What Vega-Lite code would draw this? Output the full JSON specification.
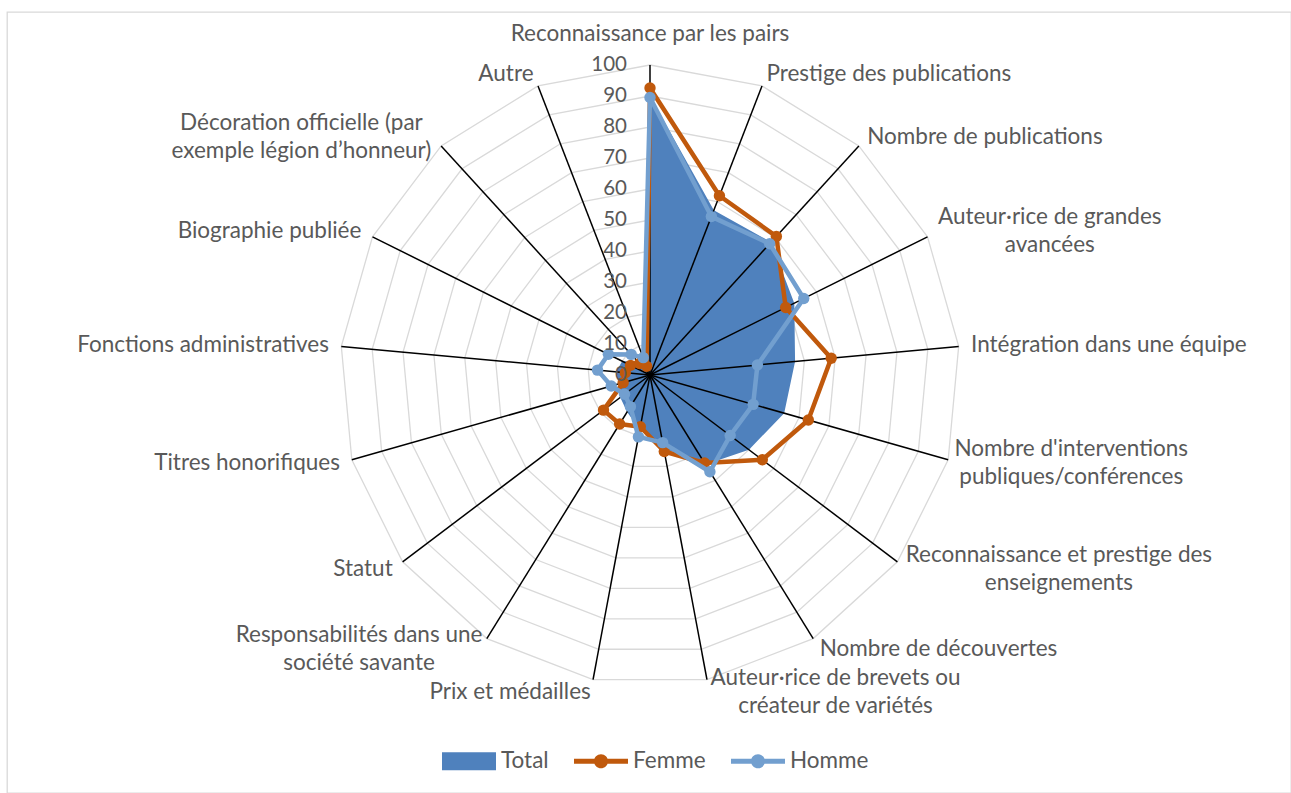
{
  "$schema": "https://vega.github.io/schema/vega-lite/v6.json",
  "width": 1284,
  "height": 781,
  "autosize": {"type": "none"},
  "padding": {"left": 7, "top": 12, "right": 0, "bottom": 0},
  "background": "white",
  "config": {
    "view": {"stroke": "#d9d9d9", "strokeWidth": 1.3},
    "text": {"font": "Lato", "fontSize": 22.5, "color": "#595959"}
  },
  "datasets": {
    "cats": [
      {"i": 0, "cat": "Reconnaissance par les pairs"},
      {"i": 1, "cat": "Prestige des publications"},
      {"i": 2, "cat": "Nombre de publications"},
      {"i": 3, "cat": ["Auteur·rice de grandes", "avancées"]},
      {"i": 4, "cat": "Intégration dans une équipe"},
      {"i": 5, "cat": ["Nombre d'interventions", "publiques/conférences"]},
      {"i": 6, "cat": ["Reconnaissance et prestige des", "enseignements"]},
      {"i": 7, "cat": "Nombre de découvertes"},
      {"i": 8, "cat": ["Auteur·rice de brevets ou", "créateur de variétés"]},
      {"i": 9, "cat": "Prix et médailles"},
      {"i": 10, "cat": ["Responsabilités dans une", "société savante"]},
      {"i": 11, "cat": "Statut"},
      {"i": 12, "cat": "Titres honorifiques"},
      {"i": 13, "cat": "Fonctions administratives"},
      {"i": 14, "cat": "Biographie publiée"},
      {"i": 15, "cat": ["Décoration officielle (par", "exemple légion d’honneur)"]},
      {"i": 16, "cat": "Autre"}
    ],
    "ticks": [
      {"t": 0}, {"t": 10}, {"t": 20}, {"t": 30}, {"t": 40}, {"t": 50},
      {"t": 60}, {"t": 70}, {"t": 80}, {"t": 90}, {"t": 100}
    ],
    "vals": [
      {"i": 0, "series": "Total", "value": 90},
      {"i": 1, "series": "Total", "value": 57},
      {"i": 2, "series": "Total", "value": 58},
      {"i": 3, "series": "Total", "value": 52},
      {"i": 4, "series": "Total", "value": 47},
      {"i": 5, "series": "Total", "value": 45},
      {"i": 6, "series": "Total", "value": 40},
      {"i": 7, "series": "Total", "value": 34},
      {"i": 8, "series": "Total", "value": 24},
      {"i": 9, "series": "Total", "value": 18},
      {"i": 10, "series": "Total", "value": 14},
      {"i": 11, "series": "Total", "value": 12},
      {"i": 12, "series": "Total", "value": 10},
      {"i": 13, "series": "Total", "value": 11},
      {"i": 14, "series": "Total", "value": 10},
      {"i": 15, "series": "Total", "value": 6},
      {"i": 16, "series": "Total", "value": 3},
      {"i": 0, "series": "Femme", "value": 92.6},
      {"i": 1, "series": "Femme", "value": 62},
      {"i": 2, "series": "Femme", "value": 60.5},
      {"i": 3, "series": "Femme", "value": 48.9},
      {"i": 4, "series": "Femme", "value": 58.7},
      {"i": 5, "series": "Femme", "value": 53.1},
      {"i": 6, "series": "Femme", "value": 45.4},
      {"i": 7, "series": "Femme", "value": 33.4},
      {"i": 8, "series": "Femme", "value": 25.1},
      {"i": 9, "series": "Femme", "value": 17},
      {"i": 10, "series": "Femme", "value": 18.6},
      {"i": 11, "series": "Femme", "value": 18.8},
      {"i": 12, "series": "Femme", "value": 9},
      {"i": 13, "series": "Femme", "value": 8},
      {"i": 14, "series": "Femme", "value": 7},
      {"i": 15, "series": "Femme", "value": 5},
      {"i": 16, "series": "Femme", "value": 3},
      {"i": 0, "series": "Homme", "value": 89.5},
      {"i": 1, "series": "Homme", "value": 54.8},
      {"i": 2, "series": "Homme", "value": 57.3},
      {"i": 3, "series": "Homme", "value": 55.4},
      {"i": 4, "series": "Homme", "value": 34.8},
      {"i": 5, "series": "Homme", "value": 34.6},
      {"i": 6, "series": "Homme", "value": 32.4},
      {"i": 7, "series": "Homme", "value": 36.7},
      {"i": 8, "series": "Homme", "value": 22.2},
      {"i": 9, "series": "Homme", "value": 20.3},
      {"i": 10, "series": "Homme", "value": 12},
      {"i": 11, "series": "Homme", "value": 10.3},
      {"i": 12, "series": "Homme", "value": 13},
      {"i": 13, "series": "Homme", "value": 17},
      {"i": 14, "series": "Homme", "value": 15},
      {"i": 15, "series": "Homme", "value": 9},
      {"i": 16, "series": "Homme", "value": 6}
    ]
  },
  "encoding": {
    "x": {"field": "px", "type": "quantitative", "scale": {"domain": [-207.419, 206.774], "nice": false, "zero": false}, "axis": null},
    "y": {"field": "py", "type": "quantitative", "scale": {"domain": [-134.839, 117.097], "nice": false, "zero": false}, "axis": null}
  },
  "layer": [
    {
      "data": {"name": "cats"},
      "transform": [
        {"calculate": "[10,20,30,40,50,60,70,80,90,100]", "as": "lvl"},
        {"flatten": ["lvl"]},
        {"calculate": "datum.i*2*PI/17", "as": "a"},
        {"calculate": "datum.lvl*sin(datum.a)", "as": "px"},
        {"calculate": "datum.lvl*cos(datum.a)", "as": "py"}
      ],
      "mark": {"type": "line", "interpolate": "linear-closed", "color": "#d9d9d9", "strokeWidth": 1.3},
      "encoding": {"detail": {"field": "lvl", "type": "nominal"}, "order": {"field": "i", "type": "quantitative"}}
    },
    {
      "data": {"name": "vals"},
      "transform": [
        {"filter": "datum.series === 'Total'"},
        {"calculate": "datum.i*2*PI/17", "as": "a"},
        {"calculate": "datum.value*sin(datum.a)", "as": "px"},
        {"calculate": "datum.value*cos(datum.a)", "as": "py"}
      ],
      "mark": {"type": "line", "interpolate": "linear-closed", "filled": true, "fill": "#4f81bd", "stroke": "#4f81bd", "strokeWidth": 0},
      "encoding": {"order": {"field": "i", "type": "quantitative"}}
    },
    {
      "data": {"name": "cats"},
      "transform": [
        {"calculate": "datum.i*2*PI/17", "as": "a"},
        {"calculate": "100*sin(datum.a)", "as": "px"},
        {"calculate": "100*cos(datum.a)", "as": "py"}
      ],
      "mark": {"type": "rule", "color": "black", "strokeWidth": 1.5},
      "encoding": {"x2": {"datum": 0}, "y2": {"datum": 0}}
    },
    {
      "data": {"name": "vals"},
      "transform": [
        {"filter": "datum.series === 'Femme'"},
        {"calculate": "datum.i*2*PI/17", "as": "a"},
        {"calculate": "datum.value*sin(datum.a)", "as": "px"},
        {"calculate": "datum.value*cos(datum.a)", "as": "py"}
      ],
      "mark": {"type": "line", "interpolate": "linear-closed", "color": "#c0590c", "strokeWidth": 4.5, "strokeJoin": "round"},
      "encoding": {"order": {"field": "i", "type": "quantitative"}}
    },
    {
      "data": {"name": "vals"},
      "transform": [
        {"filter": "datum.series === 'Femme'"},
        {"calculate": "datum.i*2*PI/17", "as": "a"},
        {"calculate": "datum.value*sin(datum.a)", "as": "px"},
        {"calculate": "datum.value*cos(datum.a)", "as": "py"}
      ],
      "mark": {"type": "point", "filled": true, "opacity": 1, "color": "#c0590c", "size": 130}
    },
    {
      "data": {"name": "vals"},
      "transform": [
        {"filter": "datum.series === 'Homme'"},
        {"calculate": "datum.i*2*PI/17", "as": "a"},
        {"calculate": "datum.value*sin(datum.a)", "as": "px"},
        {"calculate": "datum.value*cos(datum.a)", "as": "py"}
      ],
      "mark": {"type": "line", "interpolate": "linear-closed", "color": "#729fcf", "strokeWidth": 4.5, "strokeJoin": "round"},
      "encoding": {"order": {"field": "i", "type": "quantitative"}}
    },
    {
      "data": {"name": "vals"},
      "transform": [
        {"filter": "datum.series === 'Homme'"},
        {"calculate": "datum.i*2*PI/17", "as": "a"},
        {"calculate": "datum.value*sin(datum.a)", "as": "px"},
        {"calculate": "datum.value*cos(datum.a)", "as": "py"}
      ],
      "mark": {"type": "point", "filled": true, "opacity": 1, "color": "#729fcf", "size": 130}
    },
    {
      "data": {"name": "cats"},
      "transform": [
        {"filter": "datum.i >= 1 && datum.i <= 8 && !isArray(datum.cat)"},
        {"calculate": "datum.i*2*PI/17", "as": "a"},
        {"calculate": "104*sin(datum.a)", "as": "px"},
        {"calculate": "104*cos(datum.a)", "as": "py"}
      ],
      "mark": {"type": "text", "align": "left", "baseline": "middle"},
      "encoding": {"text": {"field": "cat", "type": "nominal"}}
    },
    {
      "data": {"name": "cats"},
      "transform": [
        {"filter": "datum.i >= 9 && !isArray(datum.cat)"},
        {"calculate": "datum.i*2*PI/17", "as": "a"},
        {"calculate": "104*sin(datum.a)", "as": "px"},
        {"calculate": "104*cos(datum.a)", "as": "py"}
      ],
      "mark": {"type": "text", "align": "right", "baseline": "middle"},
      "encoding": {"text": {"field": "cat", "type": "nominal"}}
    },
    {
      "data": {"name": "cats"},
      "transform": [
        {"filter": "isArray(datum.cat)"},
        {"calculate": "datum.i*2*PI/17", "as": "a"},
        {"calculate": "max(length(datum.cat[0]), length(datum.cat[1]))", "as": "n"},
        {"calculate": "104*sin(datum.a) + (sin(datum.a) > 0 ? 1 : -1) * datum.n * 1.63", "as": "px"},
        {"calculate": "104*cos(datum.a) + 4.5", "as": "py"}
      ],
      "mark": {"type": "text", "align": "center", "baseline": "middle", "lineHeight": 28},
      "encoding": {"text": {"field": "cat"}}
    },
    {
      "data": {"name": "cats"},
      "transform": [
        {"filter": "datum.i === 0"},
        {"calculate": "0", "as": "px"},
        {"calculate": "106", "as": "py"}
      ],
      "mark": {"type": "text", "align": "center", "baseline": "bottom"},
      "encoding": {"text": {"field": "cat", "type": "nominal"}}
    },
    {
      "data": {"name": "ticks"},
      "transform": [
        {"calculate": "0", "as": "px"},
        {"calculate": "datum.t", "as": "py"}
      ],
      "mark": {"type": "text", "align": "right", "baseline": "middle", "dx": -23, "fontSize": 20.5},
      "encoding": {"text": {"field": "t", "type": "quantitative"}}
    },
    {
      "data": {"name": "vals"},
      "transform": [
        {"calculate": "0", "as": "px"},
        {"calculate": "0", "as": "py"}
      ],
      "mark": {"type": "point", "filled": true, "opacity": 0, "size": 2916},
      "encoding": {
        "color": {
          "field": "series", "type": "nominal",
          "scale": {"domain": ["Total", "Femme", "Homme"], "range": ["#4f81bd", "#c0590c", "#729fcf"]},
          "legend": {
            "title": null, "orient": "none", "legendX": 435, "legendY": 722, "direction": "horizontal",
            "symbolSize": 2916, "symbolOpacity": 1, "symbolStrokeWidth": 0,
            "labelFont": "Lato", "labelFontSize": 22.5, "labelColor": "#595959", "labelOffset": 5,
            "columnPadding": 25, "padding": 0,
            "encode": {"symbols": {"update": {"opacity": {"value": 1}}}}
          }
        },
        "shape": {
          "field": "series", "type": "nominal",
          "scale": {
            "domain": ["Total", "Femme", "Homme"],
            "range": [
              "M-1,-0.33L1,-0.33L1,0.33L-1,0.33Z",
              "M-1,-0.09L1,-0.09L1,0.09L-1,0.09Z M-0.26,0A0.26,0.26 0 1,1 0.26,0A0.26,0.26 0 1,1 -0.26,0Z",
              "M-1,-0.09L1,-0.09L1,0.09L-1,0.09Z M-0.26,0A0.26,0.26 0 1,1 0.26,0A0.26,0.26 0 1,1 -0.26,0Z"
            ]
          },
          "legend": {
            "title": null, "orient": "none", "legendX": 435, "legendY": 722, "direction": "horizontal",
            "symbolSize": 2916, "symbolOpacity": 1, "symbolStrokeWidth": 0,
            "labelFont": "Lato", "labelFontSize": 22.5, "labelColor": "#595959", "labelOffset": 5,
            "columnPadding": 25, "padding": 0,
            "encode": {"symbols": {"update": {"opacity": {"value": 1}}}}
          }
        }
      }
    }
  ]
}
